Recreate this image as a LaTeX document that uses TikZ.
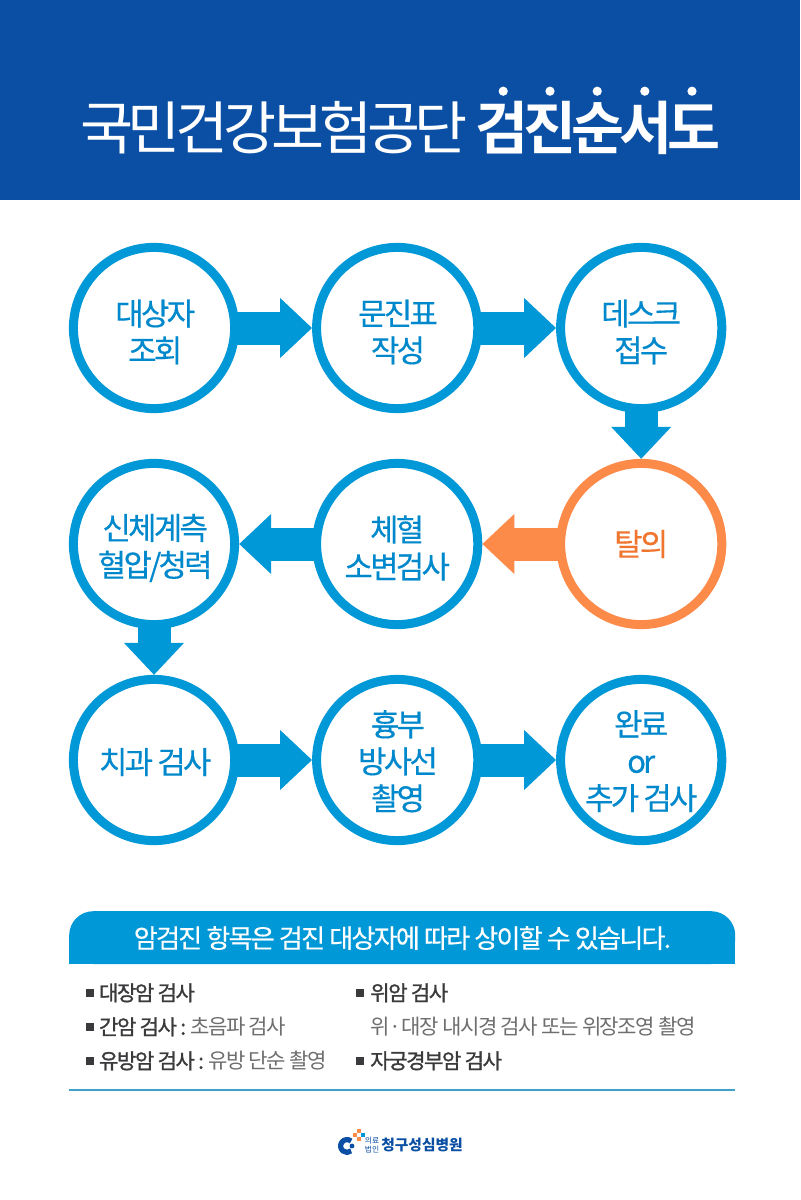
\documentclass[tikz,border=0pt]{standalone}
\usepackage{fontspec}
\setmainfont{Noto Sans CJK KR}
\newfontface\ringfont[LetterSpace=-9,FakeBold=0.4]{Noto Sans CJK KR}
\newfontface\titlefont[LetterSpace=-9]{Noto Sans CJK KR}
\newfontface\titleboldfont[LetterSpace=-9]{Noto Sans CJK KR Bold}
\newfontface\headfont[LetterSpace=-7,FakeBold=0.3]{Noto Sans CJK KR}
\newfontface\rowfont[LetterSpace=-7,FakeBold=1.2]{Noto Sans CJK KR}
\newfontface\rowlightfont[LetterSpace=-7]{Noto Sans CJK KR}
\usetikzlibrary{arrows.meta}

\definecolor{bandblue}{HTML}{0A4FA3}
\definecolor{ringblue}{HTML}{0098D6}
\definecolor{textblue}{HTML}{0088CC}
\definecolor{ringorange}{HTML}{FC8B4A}
\definecolor{textorange}{HTML}{F0762F}
\definecolor{rowgray}{HTML}{3A3A3C}
\definecolor{lightgray2}{HTML}{6E6E70}
\definecolor{linecyan}{HTML}{3FA2C6}

\tikzset{
  stepnode/.style={circle, draw=ringblue, fill=white, line width=0.225cm, minimum size=4.03cm, inner sep=0pt},
  hotnode/.style={stepnode, draw=ringorange},
  steptext/.style={inner sep=0pt, align=center, text=textblue, font=\fontsize{22}{26.3}\ringfont},
  flow/.style={ringblue, line width=0.825cm, shorten <=-0.1cm,
    -{Triangle[length=0.8cm,width=1.45cm]}},
  hotflow/.style={flow, ringorange},
  rowtext/.style={anchor=west, inner sep=0pt, text=rowgray, font=\fontsize{15}{16}\rowfont},
  bullet/.style={fill=rowgray, minimum size=0.2cm, inner sep=0pt},
  logosquare/.style={fill=ringorange, minimum size=0.1cm, inner sep=0pt}
}

\begin{document}
\begin{tikzpicture}
\useasboundingbox (0,0) rectangle (20,-30);
\fill[white] (0,0) rectangle (20,-30);
\fill[bandblue] (0,0) rectangle (20,-5);

% title
\node (title-a) at (6.85,-3.2) [text=white, inner sep=0pt, font=\fontsize{41}{44}\titlefont]{국민건강보험공단};
\node (title-b) at (14.95,-3.2) [text=white, inner sep=0pt, font=\fontsize{41}{44}\titleboldfont]{검진순서도};
\foreach \x in {12.58,13.75,14.93,16.12,17.3}
  \fill[white] (\x,-2.28) circle (0.115);

% steps
\node (A-1) at (3.85,-8.2) [stepnode]{};
\node (A-2) at (9.93,-8.2) [stepnode]{};
\node (A-3) at (16.03,-8.2) [stepnode]{};

\node (B-1) at (3.85,-13.6) [stepnode]{};
\node (B-2) at (9.93,-13.6) [stepnode]{};
\node (B-3) at (16.03,-13.6) [hotnode]{};

\node (C-1) at (3.85,-19) [stepnode]{};
\node (C-2) at (9.93,-19) [stepnode]{};
\node (C-3) at (16.03,-19) [stepnode]{};

\node (A-1-t) at (3.88,-8.3) [steptext]{대상자\\조회};
\node (A-2-t) at (9.95,-8.3) [steptext]{문진표\\작성};
\node (A-3-t) at (16.03,-8.3) [steptext]{데스크\\접수};

\node (B-1-t) at (3.88,-13.7) [steptext]{신체계측\\혈압/청력};
\node (B-2-t) at (9.93,-13.7) [steptext]{체혈\\소변검사};
\node (B-3-t) at (16.03,-13.6) [steptext, text=textorange]{탈의};

\node (C-1-t) at (3.88,-19.05) [steptext]{치과 검사};
\node (C-2-t) at (9.95,-19.03) [steptext]{흉부\\방사선\\촬영};
\node (C-3-t) at (16.03,-19.03) [steptext]{완료\\or\\추가 검사};

\draw [flow] (A-1) -- (A-2);
\draw [flow] (A-2) -- (A-3);
\draw [flow] (A-3) -- (B-3);
\draw [hotflow] (B-3) -- (B-2);
\draw [flow] (B-2) -- (B-1);
\draw [flow] (B-1) -- (C-1);
\draw [flow] (C-1) -- (C-2);
\draw [flow] (C-2) -- (C-3);

% panel
\fill [ringblue, rounded corners=0.6cm] (1.73,-24.1) -- (1.73,-22.78) -- (18.38,-22.78) -- (18.38,-24.1) -- cycle;
\fill [ringblue] (1.73,-23.5) rectangle (18.38,-24.1);
\node (head) at (10.06,-23.45) [text=white, inner sep=0pt, font=\fontsize{18.6}{20}\headfont]{암검진 항목은 검진 대상자에 따라 상이할 수 있습니다.};

\node (b-1) at (2.26,-24.82) [bullet]{};
\node (b-2) at (2.26,-25.67) [bullet]{};
\node (b-3) at (2.26,-26.52) [bullet]{};
\node (b-4) at (9.01,-24.82) [bullet]{};
\node (b-6) at (9.01,-26.52) [bullet]{};

\node (r-1) at (2.47,-24.82) [rowtext]{대장암 검사};
\node (r-2) at (2.47,-25.67) [rowtext]{간암 검사 : \rowlightfont\color{lightgray2}초음파 검사};
\node (r-3) at (2.47,-26.52) [rowtext]{유방암 검사 : \rowlightfont\color{lightgray2}유방 단순 촬영};
\node (r-4) at (9.25,-24.82) [rowtext]{위암 검사};
\node (r-5) at (9.25,-25.67) [rowtext, text=lightgray2, font=\fontsize{15}{16}\rowlightfont]{위 \kern-2.2pt·\kern-2.2pt{} 대장 내시경 검사 또는 위장조영 촬영};
\node (r-6) at (9.25,-26.52) [rowtext]{자궁경부암 검사};

\draw [linecyan, line width=0.05cm] (1.73,-27.25) -- (18.38,-27.25);

% logo
\draw [bandblue, line width=0.13cm] (8.778,-28.527) arc (50:310:0.16);
\fill [bandblue] (8.8,-28.65) circle (0.06);
\node (sq-1) at (8.975,-28.27) [logosquare]{};
\node (sq-2) at (8.875,-28.375) [logosquare]{};
\node (sq-3) at (9.075,-28.375) [logosquare, fill=ringblue]{};
\node (sq-4) at (8.975,-28.48) [logosquare]{};
\node (logo-a) at (9.3,-28.62) [text=bandblue, align=center, inner sep=0pt, font=\fontsize{5.5}{6.5}\selectfont]{의료\\법인};
\node (logo-b) at (10.55,-28.62) [text=bandblue, inner sep=0pt, font=\fontsize{10.5}{12}\selectfont\bfseries]{청구성심병원};
\end{tikzpicture}
\end{document}
